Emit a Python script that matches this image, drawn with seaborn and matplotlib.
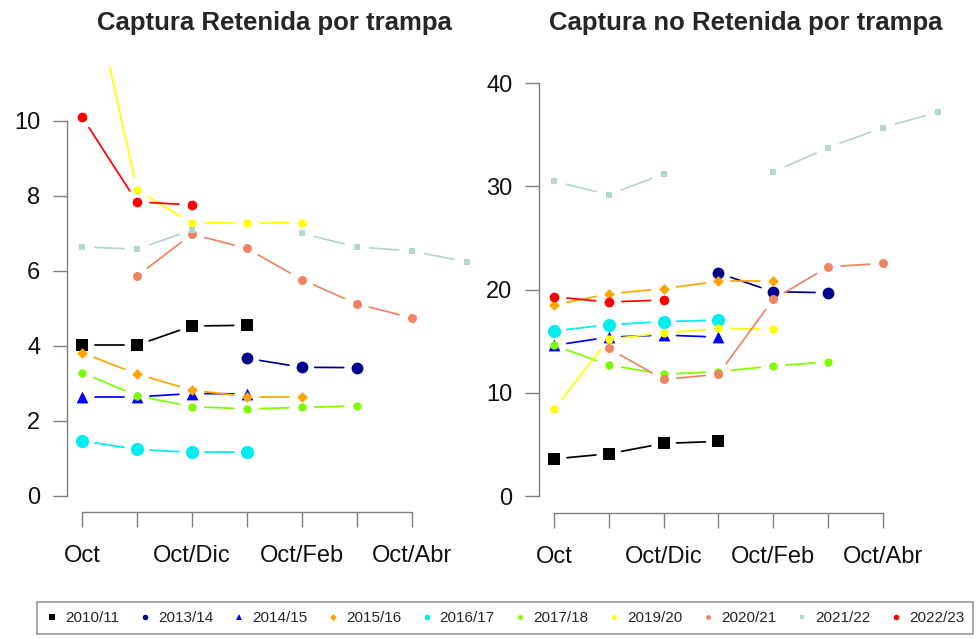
import numpy as np
import pandas as pd
import matplotlib
matplotlib.use("Agg")
import matplotlib.pyplot as plt
from matplotlib.lines import Line2D
import seaborn as sns

nan = np.nan
periods = ["Oct", "Oct/Nov", "Oct/Dic", "Oct/Ene", "Oct/Feb", "Oct/Mar", "Oct/Abr", "Oct/May"]
tick_labels = ["Oct", "", "Oct/Dic", "", "Oct/Feb", "", "Oct/Abr"]
seasons = ["2010/11", "2013/14", "2014/15", "2015/16", "2016/17",
           "2017/18", "2019/20", "2020/21", "2021/22", "2022/23"]

# Captura Retenida por trampa
ret_2010 = [4.01, 4.01, 4.52, 4.54, nan, nan, nan, nan]
ret_2013 = [nan, nan, nan, 3.66, 3.42, 3.41, nan, nan]
ret_2014 = [2.63, 2.63, 2.72, 2.71, nan, nan, nan, nan]
ret_2015 = [3.81, 3.24, 2.81, 2.64, 2.64, nan, nan, nan]
ret_2016 = [1.46, 1.23, 1.15, 1.15, nan, nan, nan, nan]
ret_2017 = [3.28, 2.66, 2.37, 2.31, 2.35, 2.39, nan, nan]
ret_2019 = [14.8, 8.15, 7.26, 7.28, 7.28, nan, nan, nan]
ret_2020 = [nan, 5.85, 6.97, 6.59, 5.76, 5.11, 4.74, nan]
ret_2021 = [6.63, 6.57, 7.08, nan, 6.99, 6.63, 6.52, 6.23]
ret_2022 = [10.1, 7.83, 7.75, nan, nan, nan, nan, nan]

# Captura no Retenida por trampa
nor_2010 = [3.6, 4.1, 5.1, 5.3, nan, nan, nan, nan]
nor_2013 = [nan, nan, nan, 21.6, 19.8, 19.7, nan, nan]
nor_2014 = [14.6, 15.4, 15.6, 15.4, nan, nan, nan, nan]
nor_2015 = [18.5, 19.6, 20.1, 20.8, 20.8, nan, nan, nan]
nor_2016 = [16.0, 16.6, 16.9, 17.05, nan, nan, nan, nan]
nor_2017 = [14.6, 12.7, 11.8, 12.05, 12.6, 13.0, nan, nan]
nor_2019 = [8.4, 15.2, 15.8, 16.25, 16.15, nan, nan, nan]
nor_2020 = [nan, 14.3, 11.3, 11.8, 19.06, 22.2, 22.55, nan]
nor_2021 = [30.5, 29.2, 31.2, nan, 31.4, 33.75, 35.7, 37.2]
nor_2022 = [19.3, 18.8, 19.0, nan, nan, nan, nan, nan]

retenida = [ret_2010, ret_2013, ret_2014, ret_2015, ret_2016,
            ret_2017, ret_2019, ret_2020, ret_2021, ret_2022]
no_retenida = [nor_2010, nor_2013, nor_2014, nor_2015, nor_2016,
               nor_2017, nor_2019, nor_2020, nor_2021, nor_2022]

colors = ["#000000", "#00008B", "#0000FF", "#FFA500", "#00EEEE",
          "#7CFC00", "#FFFF00", "#F08462", "#B4D6D2", "#FF0000"]
markers = ["s", "o", "^", "D", "o", "o", "o", "o", "s", "o"]
msizes = [8, 8.5, 8.5, 5.5, 9.5, 6, 6, 6.5, 5, 7]
leg_msizes = [4.5, 4, 5, 3.5, 4, 3.5, 3.5, 3.5, 3, 4]

sns.set_theme(style="white")
plt.rcParams["font.family"] = ["Liberation Sans", "DejaVu Sans"]

fig = plt.figure(figsize=(9.79, 6.39), dpi=100)
ax1 = fig.add_axes([0.068, 0.1987, 0.4243, 0.6972])
ax2 = fig.add_axes([0.5502, 0.1972, 0.4232, 0.7152])

GAP = 13  # pixels left free around each point (R type="b")


def draw(ax, series_list, ylim, ybound, yticks):
    ax.set_xlim(0.72, 8.28)
    ax.set_ylim(*ylim)
    for k, (name, vals, c, m, ms) in enumerate(zip(seasons, series_list, colors, markers, msizes)):
        z = 2 + k * 0.1
        x = np.arange(1, len(vals) + 1, dtype=float)
        y = np.asarray(vals, dtype=float)
        rows = []
        seg = 0
        for i in range(len(y) - 1):
            if np.isnan(y[i]) or np.isnan(y[i + 1]):
                continue
            p0, p1 = ax.transData.transform([[x[i], y[i]], [x[i + 1], y[i + 1]]])
            d = p1 - p0
            L = np.hypot(*d)
            if L <= 2 * GAP:
                continue
            q = ax.transData.inverted().transform([p0 + d / L * GAP, p1 - d / L * GAP])
            rows.append({"x": q[0][0], "y": q[0][1], "seg": seg})
            rows.append({"x": q[1][0], "y": q[1][1], "seg": seg})
            seg += 1
        if rows:
            sdf = pd.DataFrame(rows)
            sns.lineplot(data=sdf, x="x", y="y", units="seg", estimator=None, sort=False,
                         color=c, linewidth=1.25, ax=ax, legend=False, zorder=z)
        pdf = pd.DataFrame({"x": x, "y": y}).dropna()
        sns.scatterplot(data=pdf, x="x", y="y", color=c, marker=m, s=ms ** 2,
                        linewidth=0, ax=ax, legend=False, zorder=z + 0.05)
    ax.set_xlim(0.72, 8.28)
    ax.set_ylim(*ylim)
    ax.set_xticks(range(1, 8))
    ax.set_xticklabels(tick_labels)
    ax.set_yticks(yticks)
    ax.set_xlabel("")
    ax.set_ylabel("")
    for s in ["top", "right"]:
        ax.spines[s].set_visible(False)
    for s in ["left", "bottom"]:
        ax.spines[s].set_color("#7f7f7f")
        ax.spines[s].set_linewidth(1.0)
    ax.spines["left"].set_bounds(*ybound)
    ax.spines["bottom"].set_bounds(1, 7)
    ax.tick_params(axis="y", direction="out", length=10, width=1.0, color="#7f7f7f",
                   pad=9, labelsize=17, labelcolor="#111111", left=True)
    ax.tick_params(axis="x", direction="out", length=10.5, width=1.0, color="#7f7f7f",
                   pad=13, labelsize=17, labelcolor="#111111", bottom=True)
    ax.grid(False)
    ax.set_facecolor("none")


draw(ax1, retenida, (-0.44, 11.44), (0, 10), [0, 2, 4, 6, 8, 10])
draw(ax2, no_retenida, (-1.64, 42.64), (0, 40), [0, 10, 20, 30, 40])

fig.text(0.2803, 1 - 23 / 639, "Captura Retenida por trampa", ha="center", va="center",
         fontsize=18.5, fontweight="bold")
fig.text(0.7618, 1 - 23 / 639, "Captura no Retenida por trampa", ha="center", va="center",
         fontsize=18.5, fontweight="bold")

handles = [Line2D([], [], linestyle="none", marker=m, color=c, markersize=s, markeredgewidth=0)
           for m, c, s in zip(markers, colors, leg_msizes)]
leg = fig.legend(handles, seasons, loc="center", bbox_to_anchor=(0.516, 1 - 618 / 639),
                 ncol=10, frameon=True, fancybox=False, fontsize=11,
                 handlelength=0.8, handletextpad=0.45, columnspacing=1.28,
                 borderpad=0.6, edgecolor="#7f7f7f")
leg.get_frame().set_linewidth(1.2)

fig.savefig("out.png", dpi=100, facecolor="white")
